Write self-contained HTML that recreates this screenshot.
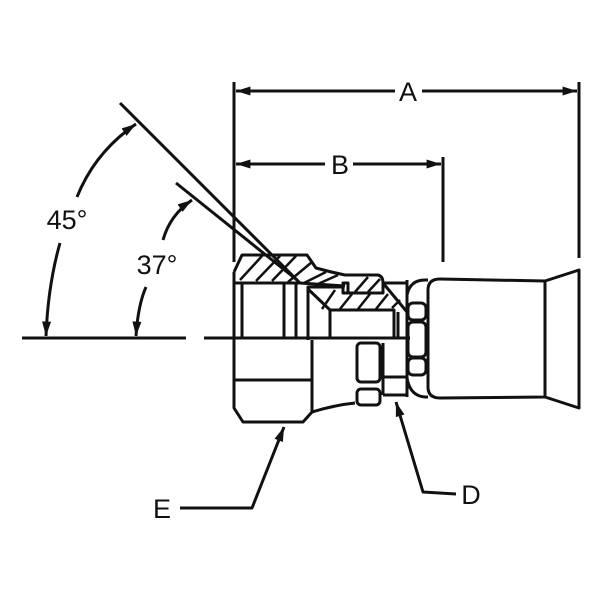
<!DOCTYPE html>
<html><head><meta charset="utf-8"><style>html,body{margin:0;padding:0;background:#fff}svg{display:block}</style></head>
<body>
<svg width="600" height="600" viewBox="0 0 600 600" xmlns="http://www.w3.org/2000/svg">
<defs>
<marker id="ar" viewBox="0 0 10 10" refX="10" refY="5" markerWidth="5" markerHeight="3.6" orient="auto-start-reverse" markerUnits="userSpaceOnUse"><path d="M0,0 L10,5 L0,10 z" fill="#111"/></marker>
<marker id="ah" viewBox="0 0 16 10" refX="16" refY="5" markerWidth="16" markerHeight="9" orient="auto-start-reverse" markerUnits="userSpaceOnUse"><path d="M0,0 L16,5 L0,10 z" fill="#111"/></marker>
</defs>
<g fill="none" stroke="#111" stroke-width="3" stroke-linejoin="round">
<!-- dimension lines -->
<line x1="234" y1="82" x2="234" y2="262"/>
<line x1="579" y1="82" x2="579" y2="258"/>
<line x1="443" y1="157" x2="443" y2="262"/>
<line x1="236" y1="91" x2="395" y2="91" marker-start="url(#ah)"/>
<line x1="422" y1="91" x2="577" y2="91" marker-end="url(#ah)"/>
<line x1="236" y1="164" x2="325" y2="164" marker-start="url(#ah)"/>
<line x1="353" y1="164" x2="441" y2="164" marker-end="url(#ah)"/>
<!-- centerline -->
<line x1="22" y1="338" x2="186" y2="338"/>
<line x1="204" y1="338" x2="410" y2="338"/>
<!-- angle lines -->
<line x1="120" y1="103" x2="300" y2="283"/>
<line x1="176" y1="183" x2="297" y2="280"/>
<!-- angle arcs -->
<path d="M77,197 Q95,152 136,124" marker-end="url(#ah)"/>
<path d="M60,243 Q48,285 46,336" marker-end="url(#ah)"/>
<path d="M163,240 Q170,215 192,200" marker-end="url(#ah)"/>
<path d="M146,287 Q138,305 136,336" marker-end="url(#ah)"/>
<!-- leaders -->
<polyline points="180,508 252,508 284,427" marker-end="url(#ah)"/>
<polyline points="456,494 423,492 396,402" marker-end="url(#ah)"/>
<!-- nut -->
<path d="M234,272 L242,255 L307,255 L316,268 Q330,272 345,275 L378,275 Q383,276 383,283"/>
<path d="M234,272 L234,408 L243,422 L303,422 L312,412 L312,340"/>
<line x1="234" y1="380" x2="312" y2="380"/>
<path d="M312,412 Q335,405 355,403"/>
<line x1="234" y1="283" x2="300" y2="283"/>
<line x1="242" y1="283" x2="242" y2="338"/>
<line x1="284" y1="283" x2="284" y2="338"/>
<line x1="296" y1="283" x2="296" y2="338"/>
<!-- hatch nut top -->
<g stroke-width="2.5">
<line x1="240" y1="280" x2="262" y2="256"/>
<line x1="256" y1="281" x2="280" y2="256"/>
<line x1="272" y1="281" x2="296" y2="256"/>
<line x1="288" y1="282" x2="312" y2="262"/>
<line x1="304" y1="283" x2="326" y2="272"/>
<line x1="318" y1="284" x2="338" y2="275"/>
</g>
<line x1="300" y1="283" x2="345" y2="286"/>
<!-- middle piece -->
<path d="M308,340 L308,287 L343,287"/>
<rect x="343" y="283" width="5" height="10"/>
<path d="M348,293 L383,293 L383,283"/>
<path d="M308,289 L330,310 L394,310 L394,339"/>
<line x1="330" y1="310" x2="330" y2="339"/>
<path d="M383,283 L407,283 L407,312 L383,283"/>
<line x1="407" y1="280" x2="407" y2="397"/>
<line x1="398" y1="312" x2="398" y2="339"/>
<g stroke-width="2.5">
<line x1="322" y1="309" x2="335" y2="290"/>
<line x1="340" y1="309" x2="352" y2="294"/>
<line x1="358" y1="309" x2="370" y2="294"/>
<line x1="376" y1="309" x2="388" y2="294"/>
<line x1="392" y1="308" x2="400" y2="300"/>
<line x1="355" y1="292" x2="368" y2="277"/>
<line x1="368" y1="292" x2="380" y2="279"/>
</g>
<!-- lower hex -->
<rect x="357" y="343" width="23" height="39" rx="4"/>
<rect x="357" y="389" width="23" height="16" rx="4"/>
<line x1="383" y1="343" x2="383" y2="395"/>
<line x1="383" y1="377" x2="407" y2="377"/>
<line x1="383" y1="395" x2="407" y2="395"/>
<!-- bumps -->
<path d="M407,295 Q410,280 425,280 L428,280"/>
<rect x="408" y="303" width="18" height="17" rx="5"/>
<rect x="408" y="322" width="18" height="35" rx="5"/>
<rect x="408" y="358" width="18" height="17" rx="5"/>
<path d="M407,378 Q410,396 425,397 L428,397"/>
<!-- sleeve -->
<path d="M428,290 Q428,279 440,279 L545,281 L545,397 L440,398 Q428,398 428,387 Z"/>
<path d="M545,281 L579,270 L579,408 L545,397"/>
</g>
<g font-family="Liberation Sans, sans-serif" font-size="27" fill="#111">
<text x="408" y="101" text-anchor="middle">A</text>
<text x="340" y="174" text-anchor="middle">B</text>
<text x="67" y="229" text-anchor="middle">45°</text>
<text x="157" y="274" text-anchor="middle">37°</text>
<text x="162" y="518" text-anchor="middle">E</text>
<text x="471" y="504" text-anchor="middle">D</text>
</g>
</svg>
</body></html>
